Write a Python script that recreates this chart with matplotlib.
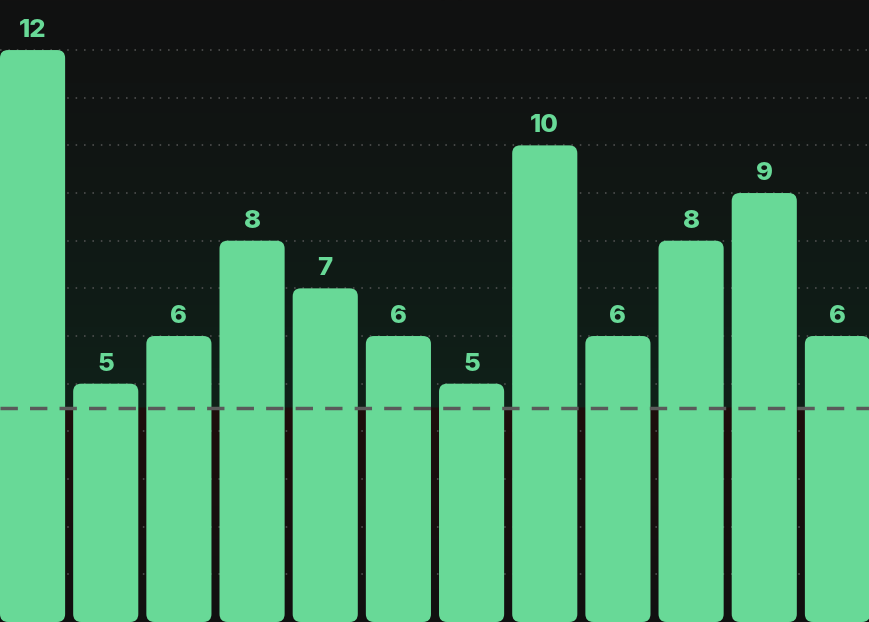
import numpy as np
import matplotlib.pyplot as plt
from matplotlib.patches import FancyBboxPatch
from matplotlib.colors import to_rgb

# Data
categories = ["1", "2", "3", "4", "5", "6", "7", "8", "9", "10", "11", "12"]
values = [12, 5, 6, 8, 7, 6, 5, 10, 6, 8, 9, 6]
threshold = 4.5

bar_color = "#68d997"
bg_color = "#111111"

fig = plt.figure(figsize=(8.7, 6.22), dpi=100)
fig.patch.set_facecolor(bg_color)
ax = fig.add_axes([0, 0, 1, 1])
ax.set_facecolor(bg_color)

x = np.arange(len(values))
width = 0.89
ax.set_xlim(-width / 2, len(values) - 1 + width / 2)
ax.set_ylim(0, 13.05)

# background gradient: green above threshold, red below
ymax = 13.05
ys = np.linspace(ymax, 0, 600)
top = np.array(to_rgb("#111111"))
green = np.array(to_rgb("#0f2119"))
red = np.array(to_rgb("#1e0e0c"))
img = np.zeros((len(ys), 1, 3))
for i, yv in enumerate(ys):
    if yv >= threshold:
        t = (ymax - yv) / (ymax - threshold)
        img[i, 0] = top + (green - top) * t ** 1.3
    else:
        t = yv / threshold
        img[i, 0] = top + (red - top) * t
ax.imshow(img, extent=[-width / 2, len(values) - 1 + width / 2, 0, ymax],
          aspect="auto", zorder=0, interpolation="bilinear")

# dotted grid
for gy in range(1, 13):
    ax.axhline(gy, color="#555555", lw=1.1, linestyle=(0, (1, 4.5)), zorder=1)

# bars with rounded corners
bars = ax.bar(x, values, width=width, color=bar_color, zorder=2)
px_x = 870 / (len(values) - 1 + width)
px_y = 622 / ymax
r = 8 / px_x
for b in bars:
    b.set_visible(False)
    fb = FancyBboxPatch((b.get_x(), b.get_y()), b.get_width(), b.get_height(),
                        boxstyle=f"round,pad=0,rounding_size={r}",
                        mutation_aspect=px_x / px_y,
                        facecolor=bar_color, edgecolor="none", zorder=2)
    ax.add_patch(fb)

# value labels
for xi, v in zip(x, values):
    ax.text(xi, v + 0.17, str(v), ha="center", va="bottom", color=bar_color,
            fontsize=18.5, fontweight=800, family=["Inter", "DejaVu Sans"], zorder=4)

# threshold line
ax.axhline(threshold, color="#5a5a5a", lw=2.5, linestyle=(0, (5, 3.5)), zorder=3)

ax.set_xticks([])
ax.set_yticks([])
for s in ax.spines.values():
    s.set_visible(False)

fig.savefig("out.png", dpi=100, facecolor=bg_color)
